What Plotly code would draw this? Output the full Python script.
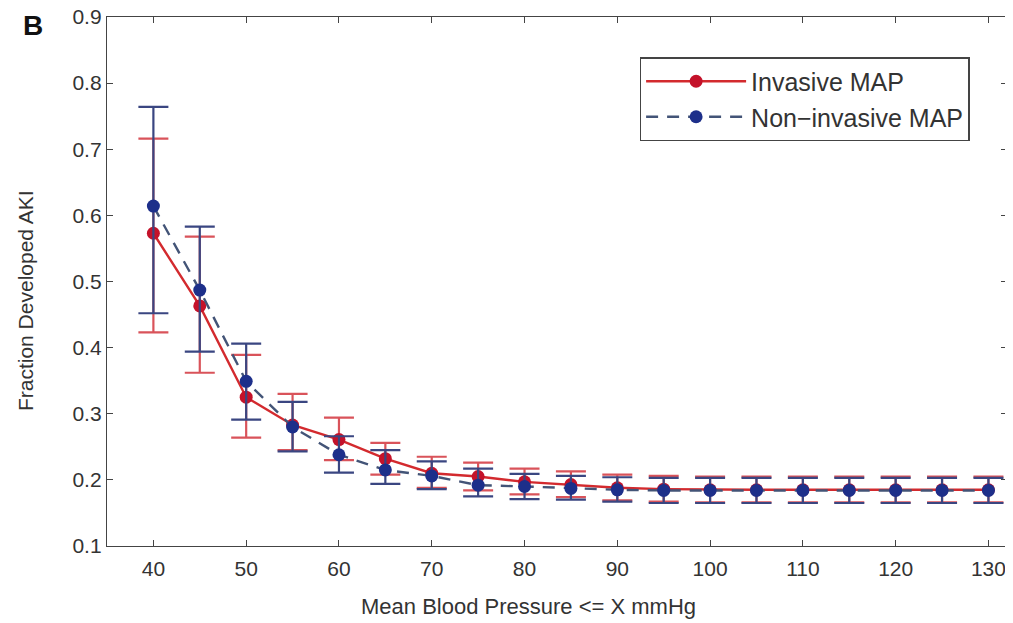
import plotly.graph_objects as go
import numpy as np

x_vals = [40, 45, 50, 55, 60, 65, 70, 75, 80, 85, 90, 95, 100, 105, 110, 115, 120, 125, 130]

inv_mean = [0.573, 0.463, 0.325, 0.283, 0.261, 0.232, 0.210, 0.205, 0.197, 0.193, 0.188, 0.186, 0.185, 0.185, 0.185, 0.185, 0.185, 0.185, 0.185]
inv_hi   = [0.716, 0.568, 0.389, 0.330, 0.294, 0.256, 0.235, 0.226, 0.217, 0.213, 0.208, 0.206, 0.205, 0.205, 0.205, 0.205, 0.205, 0.205, 0.205]
inv_lo   = [0.423, 0.362, 0.264, 0.245, 0.230, 0.208, 0.188, 0.184, 0.178, 0.174, 0.169, 0.167, 0.166, 0.166, 0.166, 0.166, 0.166, 0.166, 0.166]

non_mean = [0.614, 0.487, 0.349, 0.280, 0.238, 0.215, 0.206, 0.192, 0.190, 0.187, 0.185, 0.184, 0.184, 0.184, 0.184, 0.184, 0.184, 0.184, 0.184]
non_hi   = [0.764, 0.583, 0.406, 0.318, 0.266, 0.245, 0.228, 0.217, 0.209, 0.206, 0.204, 0.203, 0.203, 0.203, 0.203, 0.203, 0.203, 0.203, 0.203]
non_lo   = [0.452, 0.394, 0.291, 0.243, 0.211, 0.194, 0.186, 0.175, 0.171, 0.170, 0.167, 0.165, 0.165, 0.165, 0.165, 0.165, 0.165, 0.165, 0.165]

x_ticks = [40, 50, 60, 70, 80, 90, 100, 110, 120, 130]
y_ticks = [0.1, 0.2, 0.3, 0.4, 0.5, 0.6, 0.7, 0.8, 0.9]

x_title = "Mean Blood Pressure <= X mmHg"
y_title = "Fraction Developed AKI"
panel_label = "B"

inv_m = np.array(inv_mean); non_m = np.array(non_mean)

FONT = "Liberation Sans, Arial, sans-serif"
TXT = "#333"

fig = go.Figure()
fig.add_trace(go.Scatter(
    x=x_vals, y=inv_mean, mode="lines+markers", name="Invasive MAP",
    line=dict(color="#d32a2e", width=2.4),
    marker=dict(color="#c4122a", size=13),
    error_y=dict(type="data", symmetric=False,
                 array=np.array(inv_hi) - inv_m, arrayminus=inv_m - np.array(inv_lo),
                 color="#d9535a", thickness=2.2, width=15),
))
fig.add_trace(go.Scatter(
    x=x_vals, y=non_mean, mode="lines+markers", name="Non\u2212invasive MAP",
    line=dict(color="#435477", width=2.4, dash="12px,9px"),
    marker=dict(color="#1d2f8a", size=13),
    error_y=dict(type="data", symmetric=False,
                 array=np.array(non_hi) - non_m, arrayminus=non_m - np.array(non_lo),
                 color="#3a4681", thickness=2.2, width=15),
))

axis_common = dict(showgrid=False, zeroline=False, showline=True, linecolor="#444",
                   linewidth=1.3, mirror="ticks", ticks="inside", ticklen=6,
                   tickcolor="#444", automargin=False, ticklabeloverflow="allow",
                   tickfont=dict(family=FONT, size=21, color=TXT))

fig.update_xaxes(range=[35, 132], tickvals=x_ticks, ticklabelstandoff=4, **axis_common)
fig.update_yaxes(range=[0.1, 0.9], tickvals=y_ticks, tickformat=".1f", **axis_common)

fig.add_annotation(text=x_title, xref="paper", yref="paper", x=0.468, y=-0.1153,
                   showarrow=False, xanchor="center", yanchor="middle",
                   font=dict(family=FONT, size=22, color=TXT))
fig.add_annotation(text=y_title, xref="paper", yref="paper", x=-0.0911, y=0.463,
                   showarrow=False, xanchor="center", yanchor="middle", textangle=-90,
                   font=dict(family=FONT, size=21, color=TXT))
fig.add_annotation(text="<b>" + panel_label + "</b>", xref="paper", yref="paper",
                   x=-0.082, y=0.983, showarrow=False, xanchor="center", yanchor="middle",
                   font=dict(family=FONT, size=28, color="#111"))

fig.update_layout(
    width=1005, height=615,
    margin=dict(l=99, r=6, t=9, b=77, autoexpand=False),
    paper_bgcolor="white", plot_bgcolor="white",
    showlegend=True,
    legend=dict(x=0.592, y=0.924, xanchor="left", yanchor="top",
                bgcolor="white", bordercolor="#444", borderwidth=1.3,
                font=dict(family=FONT, size=25, color=TXT),
                itemwidth=100, tracegroupgap=0),
)

fig.write_html("out.html")
